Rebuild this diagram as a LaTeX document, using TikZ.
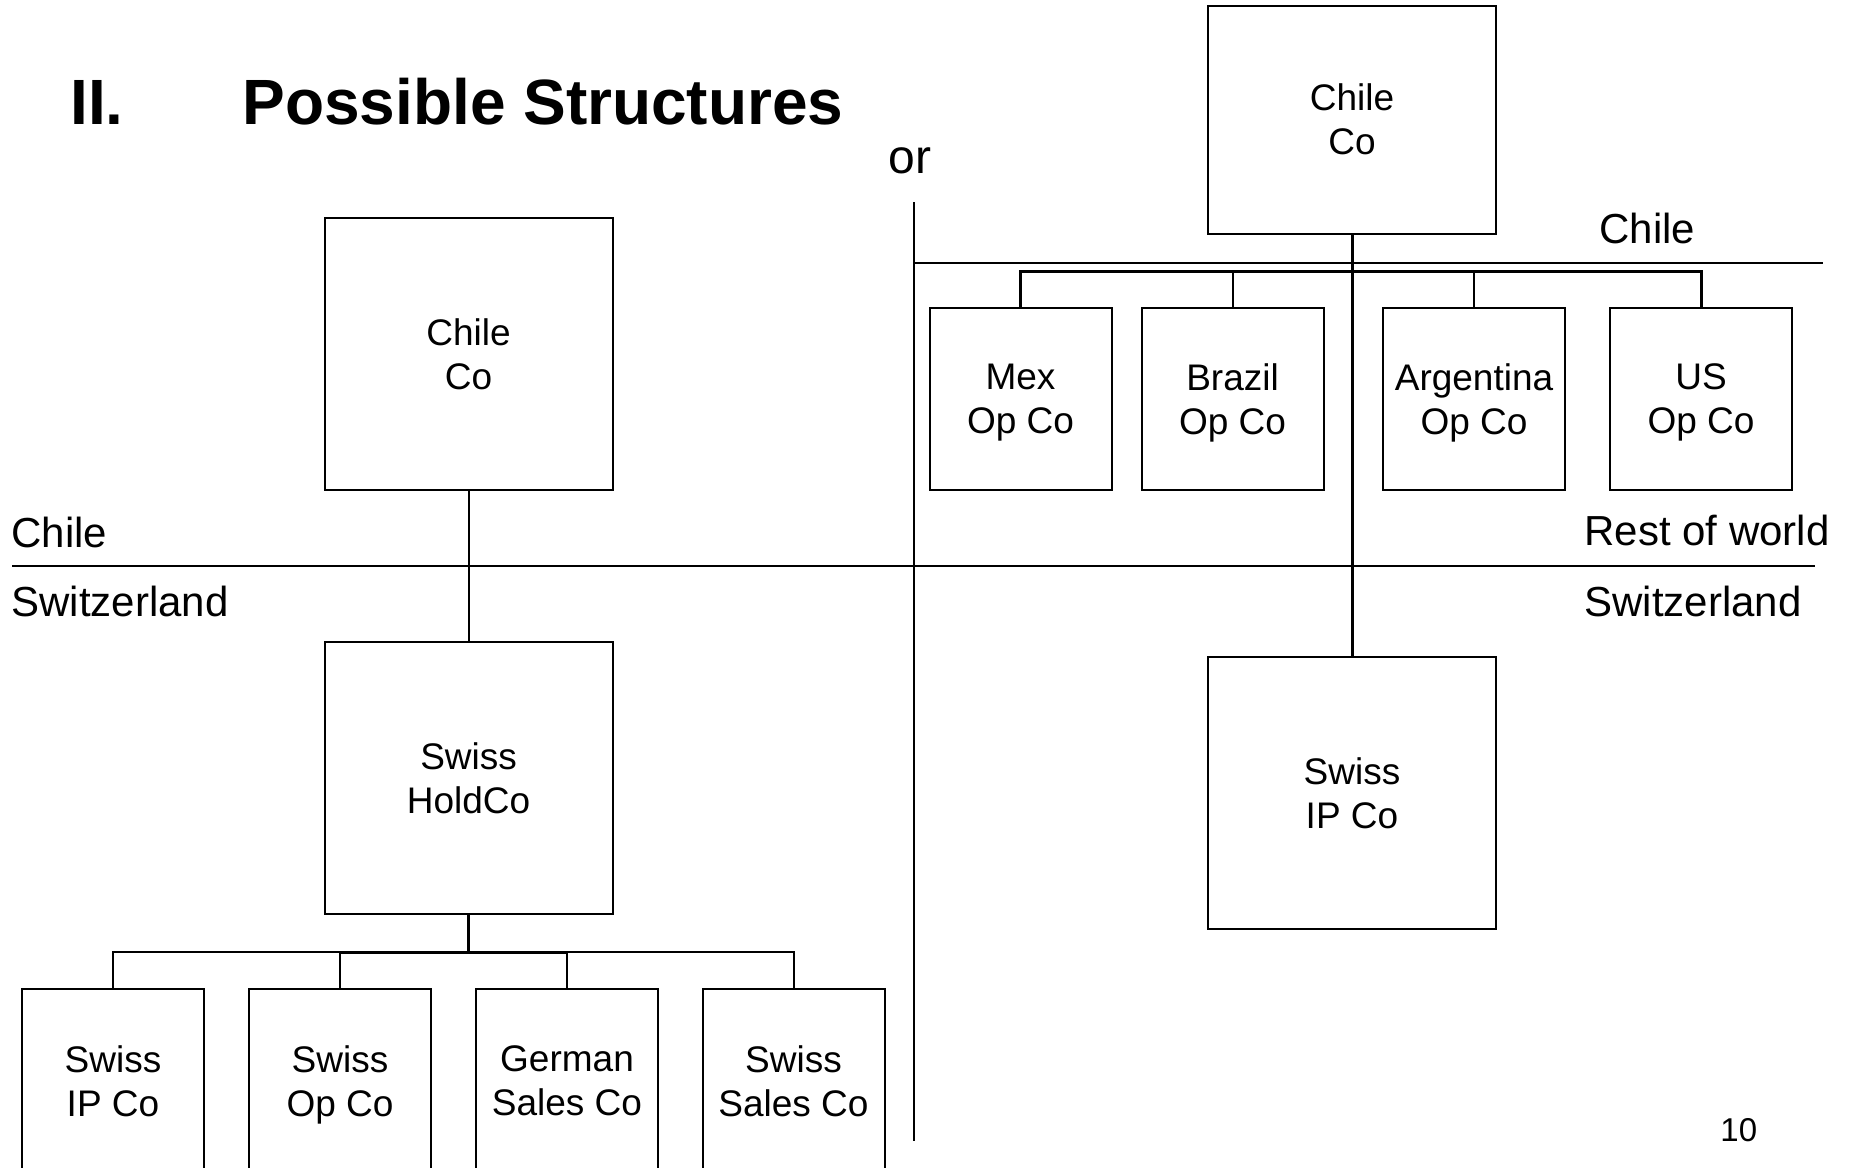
\documentclass[tikz,border=0pt]{standalone}
\usepackage{fontspec}
\setmainfont{Liberation Sans}
\begin{document}
\begin{tikzpicture}[x=0.5pt,y=-0.5pt,
  entity/.style={draw, line width=1pt, rectangle, align=center, inner sep=0pt,
    font=\fontsize{18.5}{22}\selectfont},
  wideco/.style={entity, minimum width=144pt, minimum height=136pt},
  topco/.style={entity, minimum width=144pt, minimum height=114pt},
  smallco/.style={entity, minimum width=91pt, minimum height=91pt},
  lowco/.style={entity, minimum width=91pt, minimum height=92pt},
  region/.style={anchor=base west, inner sep=0pt, font=\fontsize{21}{25}\selectfont},
  link/.style={line width=1pt},
  trunk/.style={line width=1.5pt},
  border/.style={line width=1pt}]

\useasboundingbox (0,0) rectangle (1852,1167);
\clip (0,0) rectangle (1852,1167);

% heading
\node[anchor=base west, inner sep=0pt, font=\bfseries\fontsize{32}{38}\selectfont] (secnum) at (70,124) {II.};
\node[anchor=base west, inner sep=0pt, font=\bfseries\fontsize{32}{38}\selectfont] (sectitle) at (242,124) {Possible Structures};
\node[anchor=base west, inner sep=0pt, font=\fontsize{24}{28}\selectfont] (ortext) at (888,173) {or};
\node[anchor=base west, inner sep=0pt, font=\fontsize{16.5}{20}\selectfont] (pagenum) at (1720,1141) {10};

% jurisdiction borders
\coordinate (hwL) at (12,565.5);
\coordinate (hwR) at (1815,565.5);
\coordinate (hcL) at (914,263);
\coordinate (hcR) at (1823,263);
\coordinate (vT) at (914,202);
\coordinate (vB) at (914,1141);
\draw[border] (hwL) -- (hwR);
\draw[border] (hcL) -- (hcR);
\draw[border] (vT) -- (vB);

% region labels
\node[region] (lblChileL) at (11,547) {Chile};
\node[region] (lblSwissL) at (11,616) {Switzerland};
\node[region] (lblChileR) at (1599,243) {Chile};
\node[region] (lblRoW) at (1584,545) {Rest of world};
\node[region] (lblSwissR) at (1584,616) {Switzerland};

% first structure: holding company
\node[wideco] (lchile) at (468.6,354) {Chile\\Co};
\node[wideco] (hold) at (468.6,777.8) {Swiss\\HoldCo};
\node[lowco] (sip) at (113,1081) {Swiss\\IP Co};
\node[lowco] (sop) at (340,1081) {Swiss\\\smash{Op Co}};
\node[lowco] (gsales) at (567,1081) {German\\Sales Co};
\node[lowco] (ssales) at (793.5,1081) {Swiss\\Sales Co};

\draw[link] (lchile.south) -- (hold.north);
\draw[trunk] (hold.south) -- ++(0,37.5) coordinate (lbus);
\draw[link] (sip.north) |- (lbus) -| (ssales.north);
\draw[link] (sop.north) |- (lbus);
\draw[link] (gsales.north) |- (lbus);
\draw[trunk] (sop.north |- lbus) -- (gsales.north |- lbus);

% second structure: direct ownership
\node[topco] (rchile) at (1352,119.5) {Chile\\Co};
\node[smallco] (mex) at (1020.5,399) {Mex\\\smash{Op Co}};
\node[smallco] (brazil) at (1232.5,399) {Brazil\\\smash{Op Co}};
\node[smallco] (argentina) at (1474,399) {Argentina\\\smash{Op Co}};
\node[smallco] (usop) at (1701,399) {US\\\smash{Op Co}};
\node[wideco] (ripco) at (1352,793) {Swiss\\IP Co};

\draw[trunk] (rchile.south) -- (ripco.north);
\coordinate (rbus) at (1352,271);
\draw[trunk] (mex.north) |- (rbus) -| (usop.north);
\draw[link] (brazil.north) -- (brazil.north |- rbus);
\draw[link] (argentina.north) -- (argentina.north |- rbus);

\end{tikzpicture}
\end{document}
